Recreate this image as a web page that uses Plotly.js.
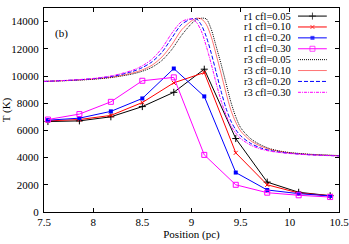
<!DOCTYPE html>
<html>
<head>
<meta charset="utf-8">
<script src="https://cdn.plot.ly/plotly-3.0.1.min.js"></script>
<style>html,body{margin:0;padding:0;background:#fff;}#chart{width:349px;height:244px;}</style>
</head>
<body>
<div id="chart"></div>
<script>
// r1 (coarse) series: positions of the cell centres (pc)
const r1X = [7.54, 7.86, 8.18, 8.50, 8.82, 9.13, 9.45, 9.77, 10.09, 10.41];
const r1_005 = [6650, 6700, 7000, 7750, 8800, 10500, 5400, 2200, 1450, 1200];
const r1_010 = [6700, 6800, 7100, 8050, 9500, 10250, 4350, 2000, 1400, 1200];
const r1_020 = [6750, 6900, 7400, 8350, 10550, 8500, 2900, 1620, 1350, 1180];
const r1_030 = [6800, 7200, 8100, 9650, 9900, 4200, 2000, 1420, 1230, 1100];

// r3 (fine) series
const r3X = [7.5, 7.8, 8.0, 8.2, 8.4, 8.5, 8.6, 8.7, 8.8, 8.9, 9.0, 9.05, 9.1, 9.15, 9.2, 9.25, 9.3, 9.35, 9.4, 9.45, 9.5, 9.6, 9.7, 9.8, 9.9, 10.0, 10.2, 10.5];
const r3_005 = [9600, 9680, 9760, 9900, 10150, 10350, 10650, 11150, 11950, 13000, 13850, 14150, 14250, 14200, 13450, 12200, 10900, 9500, 8100, 7000, 6200, 5400, 4950, 4650, 4480, 4370, 4250, 4150];
const r3_010 = [9600, 9690, 9780, 9930, 10220, 10450, 10800, 11400, 12300, 13400, 14050, 14250, 14200, 13800, 12900, 11600, 10200, 8800, 7500, 6600, 5950, 5250, 4850, 4600, 4450, 4350, 4230, 4140];
const r3_020 = [9600, 9700, 9800, 9980, 10330, 10620, 11050, 11750, 12800, 13800, 14200, 14200, 13750, 12900, 11700, 10300, 8900, 7650, 6700, 6050, 5600, 5050, 4720, 4520, 4400, 4320, 4210, 4130];
const r3_030 = [9600, 9710, 9820, 10030, 10420, 10750, 11250, 12050, 13150, 14000, 14200, 13950, 13300, 12200, 10900, 9500, 8200, 7150, 6350, 5800, 5400, 4920, 4640, 4470, 4370, 4300, 4200, 4120];

const names = ["r1 cfl=0.05", "r1 cfl=0.10", "r1 cfl=0.20", "r1 cfl=0.30",
               "r3 cfl=0.05", "r3 cfl=0.10", "r3 cfl=0.20", "r3 cfl=0.30"];
const xTicks = [7.5, 8, 8.5, 9, 9.5, 10, 10.5];
const yTicks = [0, 2000, 4000, 6000, 8000, 10000, 12000, 14000];

const FONT = "Liberation Serif";

const styles = [
  {color: "#000000", dash: "solid", width: 1, marker: {symbol: "cross-thin", size: 5, line: {width: 1, color: "#000000"}, color: "#000000"}},
  {color: "#ff0000", dash: "solid", width: 1, marker: {symbol: "x-thin", size: 4, line: {width: 1, color: "#ff0000"}, color: "#ff0000"}},
  {color: "#0000ff", dash: "solid", width: 1, marker: {symbol: "square", size: 4, color: "#0000ff", line: {width: 0}}},
  {color: "#ff00ff", dash: "solid", width: 1, marker: {symbol: "square-open", size: 5, color: "#ff00ff", line: {width: 1, color: "#ff00ff"}}},
  {color: "#000000", dash: "1px,1px", width: 1},
  {color: "rgba(255,0,0,0.55)", dash: "solid", width: 1},
  {color: "#0000ff", dash: "4px,2px", width: 1},
  {color: "#ff00ff", dash: "3px,1px,1px,1px", width: 1}
];

const seriesX = [r1X, r1X, r1X, r1X, r3X, r3X, r3X, r3X];
const seriesY = [r1_005, r1_010, r1_020, r1_030, r3_005, r3_010, r3_020, r3_030];

const traces = [];
for (let i = 0; i < 8; i++) {
  const s = styles[i];
  const t = {
    x: seriesX[i], y: seriesY[i], type: "scatter",
    mode: s.marker ? "lines+markers" : "lines",
    name: names[i], showlegend: false,
    line: {color: s.color, dash: s.dash, width: s.width, shape: s.marker ? "linear" : "spline", smoothing: 0.8},
    xaxis: "x", yaxis: "y", hoverinfo: "skip"
  };
  if (s.marker) t.marker = s.marker;
  traces.push(t);
}
// key samples (gnuplot style: text then sample)
const annotations = [];
for (let i = 0; i < 8; i++) {
  const s = styles[i];
  const row = i + 1;
  const t = {
    x: [0, 0.5, 1], y: [row, row, row], type: "scatter",
    mode: s.marker ? "lines+markers" : "lines",
    showlegend: false, hoverinfo: "skip",
    line: {color: s.color, dash: s.dash, width: s.width},
    xaxis: "x2", yaxis: "y2", cliponaxis: false
  };
  if (s.marker) {
    t.marker = Object.assign({}, s.marker, {size: [0, s.marker.size, 0]});
  }
  traces.push(t);
  annotations.push({
    xref: "paper", yref: "y2", x: 0.84, y: row, xanchor: "right", yanchor: "middle",
    text: names[i], showarrow: false, borderpad: 0,
    font: {family: FONT, size: 10.5, color: "#000"}
  });
}
annotations.push({
  xref: "paper", yref: "paper", x: 0.058, y: 0.873, xanchor: "center", yanchor: "middle",
  text: "(b)", showarrow: false, font: {family: FONT, size: 11, color: "#000"}
});

const layout = {
  width: 349, height: 244,
  margin: {l: 44, r: 10, t: 8, b: 32, pad: 0},
  paper_bgcolor: "#ffffff", plot_bgcolor: "rgba(0,0,0,0)",
  font: {family: FONT, size: 11, color: "#000"},
  showlegend: false,
  xaxis: {
    range: [7.5, 10.5], tickvals: xTicks, ticktext: xTicks.map(String),
    ticks: "inside", ticklen: 4, tickcolor: "#000", showline: true, linecolor: "#000", linewidth: 1,
    mirror: "ticks", showgrid: false, zeroline: false, ticklabeloverflow: "allow",
    title: {text: "Position (pc)", font: {family: FONT, size: 11}, standoff: 2},
    tickfont: {family: FONT, size: 11}
  },
  yaxis: {
    range: [0, 15000], tickvals: yTicks, ticktext: yTicks.map(String),
    ticks: "inside", ticklen: 4, tickcolor: "#000", showline: true, linecolor: "#000", linewidth: 1,
    mirror: "ticks", showgrid: false, zeroline: false, ticklabeloverflow: "allow",
    title: {text: "T (K)", font: {family: FONT, size: 11}, standoff: 4},
    tickfont: {family: FONT, size: 11}, ticklabelstandoff: 2
  },
  xaxis2: {domain: [0.861, 0.959], range: [0, 1], visible: false, anchor: "y2", fixedrange: true},
  yaxis2: {domain: [0.56, 0.987], range: [8.5, 0.5], visible: false, anchor: "x2", fixedrange: true},
  annotations: annotations
};

Plotly.newPlot("chart", traces, layout, {staticPlot: true, displayModeBar: false});
</script>
</body>
</html>
